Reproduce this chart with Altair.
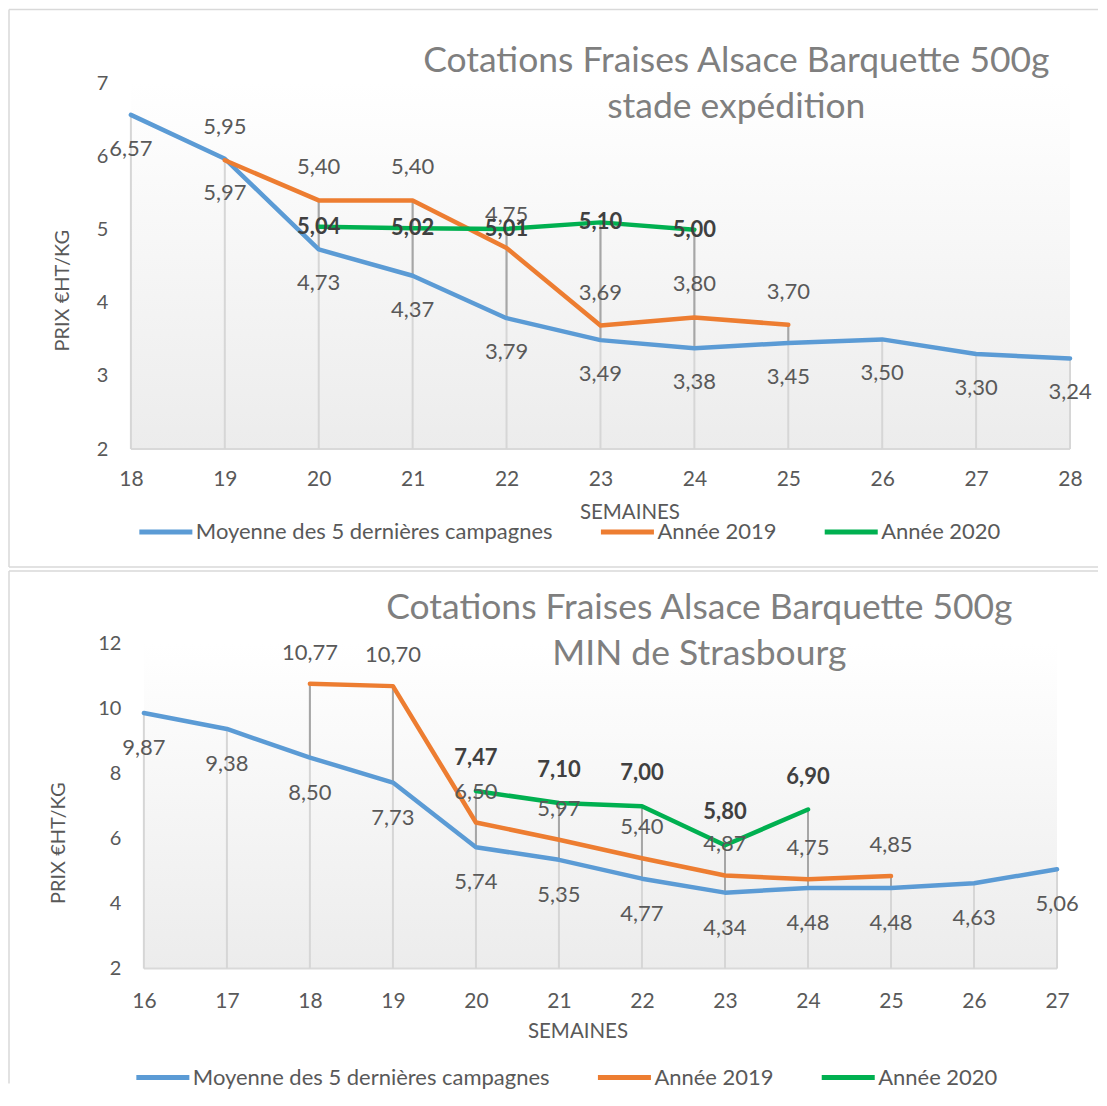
import altair as alt
import pandas as pd

SERIES = ["Moyenne des 5 dernières campagnes", "Année 2019", "Année 2020"]
COLORS = ["#5B9BD5", "#ED7D31", "#00B050"]
FONT = "Lato"
TXT = "#595959"

# ---- top chart: stade expédition ----
TOP_TITLE = ["Cotations Fraises Alsace Barquette 500g", "stade expédition"]
TOP_WEEKS = [18, 19, 20, 21, 22, 23, 24, 25, 26, 27, 28]
TOP_AVG_WEEKS = [18, 19, 20, 21, 22, 23, 24, 25, 26, 27, 28]
TOP_AVG = [6.57, 5.97, 4.73, 4.37, 3.79, 3.49, 3.38, 3.45, 3.50, 3.30, 3.24]
TOP_2019_WEEKS = [19, 20, 21, 22, 23, 24, 25]
TOP_2019 = [5.95, 5.40, 5.40, 4.75, 3.69, 3.80, 3.70]
TOP_2020_WEEKS = [20, 21, 22, 23, 24]
TOP_2020 = [5.04, 5.02, 5.01, 5.10, 5.00]
TOP_Y_TICKS = [2, 3, 4, 5, 6, 7]

# ---- bottom chart: MIN de Strasbourg ----
BOT_TITLE = ["Cotations Fraises Alsace Barquette 500g", "MIN de Strasbourg"]
BOT_WEEKS = [16, 17, 18, 19, 20, 21, 22, 23, 24, 25, 26, 27]
BOT_AVG_WEEKS = [16, 17, 18, 19, 20, 21, 22, 23, 24, 25, 26, 27]
BOT_AVG = [9.87, 9.38, 8.50, 7.73, 5.74, 5.35, 4.77, 4.34, 4.48, 4.48, 4.63, 5.06]
BOT_2019_WEEKS = [18, 19, 20, 21, 22, 23, 24, 25]
BOT_2019 = [10.77, 10.70, 6.50, 5.97, 5.40, 4.87, 4.75, 4.85]
BOT_2020_WEEKS = [20, 21, 22, 23, 24]
BOT_2020 = [7.47, 7.10, 7.00, 5.80, 6.90]
BOT_Y_TICKS = [2, 4, 6, 8, 10, 12]

X_TITLE = "SEMAINES"
Y_TITLE = "PRIX €HT/KG"


def make_panel(title, weeks, data, yticks, lay):
    rows = []
    for name, (ws, vs) in zip(SERIES, data):
        for w, v in zip(ws, vs):
            rows.append({"week": w, "value": v, "series": name,
                         "label": f"{v:.2f}".replace(".", ",")})
    df = pd.DataFrame(rows)

    piv = df.pivot(index="week", columns="series", values="value")
    light, dark = [], []
    for w, r in piv.iterrows():
        vals = r.dropna()
        light.append({"week": w, "top": vals.max(), "base": yticks[0]})
        others = vals.drop(SERIES[0], errors="ignore")
        if len(others) and SERIES[0] in vals.index:
            dark.append({"week": w, "top": others.max(), "base": vals[SERIES[0]]})
    light = pd.DataFrame(light)
    dark = pd.DataFrame(dark)

    # plot area may start a few pixels left of the first week (left inset)
    span = weeks[-1] - weeks[0]
    inset = lay.get("inset", 0)
    W = lay["W"] + inset
    x_lo = weeks[0] - inset * span / lay["W"]
    xsc = alt.Scale(domain=[x_lo, weeks[-1]], nice=False, zero=False)
    ysc = alt.Scale(domain=[yticks[0], yticks[-1]], nice=False, zero=False)

    xaxis = alt.Axis(values=weeks, format="d", title=X_TITLE, grid=False,
                     ticks=False, tickSize=0, domain=False,
                     labelFont=FONT, labelFontSize=21, labelColor=TXT,
                     labelPadding=lay["xlabpad"], labelFlush=False, labelOverlap=False,
                     titleFont=FONT, titleFontSize=20.5, titleFontWeight="normal",
                     titleColor=TXT, titleX=lay["xtitle"][0], titleY=lay["xtitle"][1],
                     titleBaseline="middle", titleAlign="center")
    yaxis = alt.Axis(values=yticks, format="d", title=Y_TITLE, grid=False,
                     ticks=False, tickSize=0, domain=False,
                     labelFont=FONT, labelFontSize=20, labelColor=TXT,
                     labelPadding=23 - inset, labelOverlap=False, labelFlush=False,
                     titleFont=FONT, titleFontSize=20, titleFontWeight="normal",
                     titleColor=TXT, titleAngle=270,
                     titleX=lay["ytitle"][0], titleY=lay["ytitle"][1],
                     titleBaseline="middle", titleAlign="center")

    def X(field):
        return alt.X(field, type="quantitative", scale=xsc, axis=xaxis)

    def Y(field):
        return alt.Y(field, type="quantitative", scale=ysc, axis=yaxis)

    one = pd.DataFrame({"a": [0]})
    fl, ft, fr, fb = lay["frame"]
    frame = [
        alt.Chart(one).mark_rule(color="#d9d9d9", strokeWidth=1.5).encode(
            x=alt.value(fl), y=alt.value(ft), y2=alt.value(fb)),
        alt.Chart(one).mark_rule(color="#d9d9d9", strokeWidth=1.5).encode(
            x=alt.value(fl), x2=alt.value(fr), y=alt.value(ft)),
    ]
    if lay.get("frame_bottom", True):
        frame.append(alt.Chart(one).mark_rule(color="#d9d9d9", strokeWidth=1.5).encode(
            x=alt.value(fl), x2=alt.value(fr), y=alt.value(fb)))

    bg_df = pd.DataFrame({"x0": [weeks[0]], "x1": [weeks[-1]],
                          "y0": [yticks[0]], "y1": [yticks[-1]]})
    grad = alt.LinearGradient(
        gradient="linear", x1=0, x2=0, y1=0, y2=1,
        stops=[alt.GradientStop(color="#ffffff", offset=0),
               alt.GradientStop(color="#ececec", offset=1)])
    bg = alt.Chart(bg_df).mark_rect(color=grad).encode(
        x=X("x0"), x2="x1", y=Y("y0"), y2="y1")
    # category axis base line, from first to last week
    base = alt.Chart(bg_df).mark_rule(color="#d9d9d9", strokeWidth=2).encode(
        x=X("x0"), x2="x1", y=Y("y0"))

    drop_light = alt.Chart(light).mark_rule(color="#d6d6d6", strokeWidth=2).encode(
        x=X("week"), y=Y("top"), y2="base")
    drop_dark = alt.Chart(dark).mark_rule(color="#a6a6a6", strokeWidth=2).encode(
        x=X("week"), y=Y("top"), y2="base")

    legend = alt.Legend(orient="none", legendX=lay["legend"][0], legendY=lay["legend"][1],
                        direction="horizontal", columns=3, columnPadding=37,
                        symbolType="M-4,0H4", symbolSize=176, symbolStrokeWidth=5,
                        labelOffset=19, labelFont=FONT, labelFontSize=22,
                        labelColor=TXT, labelLimit=800, title=None, padding=0)
    lines = alt.Chart(df).mark_line(strokeWidth=4.5, strokeJoin="round",
                                    strokeCap="round").encode(
        x=X("week"), y=Y("value"),
        color=alt.Color("series:N", scale=alt.Scale(domain=SERIES, range=COLORS),
                        legend=legend))

    labels = []
    styles = [
        (SERIES[0], lay["dy"][0], "normal", TXT),
        (SERIES[1], lay["dy"][1], "normal", TXT),
        (SERIES[2], lay["dy"][2], "bold", "#404040"),
    ]
    for name, dy, weight, col in styles:
        labels.append(
            alt.Chart(df).transform_filter(alt.datum.series == name).mark_text(
                dy=dy, font=FONT, fontSize=22, fontWeight=weight, color=col,
                align="center", baseline="middle").encode(
                x=X("week"), y=Y("value"), text="label:N"))

    titles = []
    for i, line in enumerate(title):
        titles.append(alt.Chart(one).mark_text(
            text=line, font=FONT, fontSize=35.5, color="#7f7f7f", align="center",
            baseline="alphabetic").encode(
            x=alt.value(lay["title"][0]), y=alt.value(lay["title"][1] + 46 * i)))

    return alt.layer(*frame, bg, base, drop_light, drop_dark, lines, *labels,
                     *titles).properties(width=W, height=lay["H"])


top = make_panel(
    TOP_TITLE, TOP_WEEKS,
    [(TOP_AVG_WEEKS, TOP_AVG), (TOP_2019_WEEKS, TOP_2019), (TOP_2020_WEEKS, TOP_2020)],
    TOP_Y_TICKS,
    dict(W=940, H=366, frame=(-122, -74, 968, 484), title=(606, -11),
         ytitle=(-68, 207), xtitle=(499, 63), legend=(24, 438), xlabpad=19,
         dy=(34, -33, 0)))

bot = make_panel(
    BOT_TITLE, BOT_WEEKS,
    [(BOT_AVG_WEEKS, BOT_AVG), (BOT_2019_WEEKS, BOT_2019), (BOT_2020_WEEKS, BOT_2020)],
    BOT_Y_TICKS,
    dict(W=914, H=325, inset=13, frame=(-122, -73, 968, 440), frame_bottom=False,
         title=(569, -25), ytitle=(-72, 199), xtitle=(447, 63), legend=(21, 423),
         xlabpad=22, dy=(35, -31, -33)))

chart = alt.concat(top, bot, columns=1, spacing=2).resolve_scale(
    color="independent", x="independent", y="independent").resolve_legend(
    color="independent").properties(
    padding={"left": 0, "top": 0, "right": 0, "bottom": 0}).configure_view(strokeWidth=0)

chart.save("out.html", embed_options={"renderer": "svg", "actions": False})
